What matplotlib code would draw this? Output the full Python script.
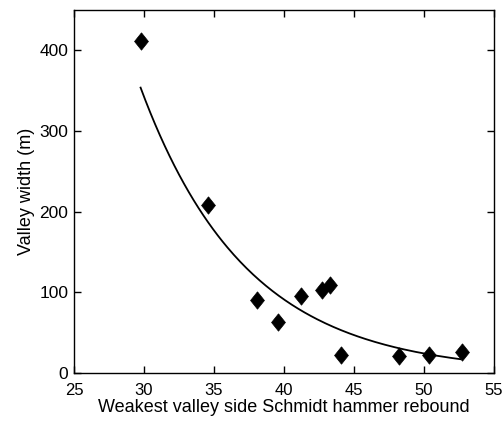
import numpy as np
import matplotlib.pyplot as plt

plt.rcParams['font.family'] = ['Liberation Sans', 'DejaVu Sans']

# measured valleys
rebound = [29.8, 34.6, 38.05, 39.6, 41.2, 42.7, 43.3, 44.05, 48.25, 50.35, 52.7]
width = [412, 209, 90, 63, 96, 103, 109, 22, 21, 22, 26]

# exponential fit: width = a * exp(b * rebound)
fit_a = 18150.0
fit_b = -0.1323
fit_x = np.linspace(29.76, 52.6, 200)
fit_y = fit_a * np.exp(fit_b * fit_x)

# matlab-like diamond, a bit taller than wide
diamond = [(0, 1.25), (1, 0), (0, -1.25), (-1, 0), (0, 1.25)]

fig = plt.figure(figsize=(5.03, 4.23), dpi=100)
ax = fig.add_axes([0.147, 0.118, 0.835, 0.858])

ax.plot(fit_x, fit_y, color='black', linewidth=1.3)
ax.plot(rebound, width, linestyle='none', marker=diamond, markersize=12.5,
        markeredgewidth=0.5, color='black')

ax.set_xlim(25, 55)
ax.set_ylim(0, 450)
ax.set_xticks([25, 30, 35, 40, 45, 50, 55])
ax.set_yticks([0, 100, 200, 300, 400])
ax.tick_params(direction='in', top=True, right=True, length=5, width=1,
               labelsize=12.5)
ax.tick_params(axis='x', pad=7, labelsize=12)
ax.tick_params(axis='y', pad=4)
for s in ax.spines.values():
    s.set_linewidth(1)

ax.set_xlabel('Weakest valley side Schmidt hammer rebound', fontsize=13, labelpad=1)
ax.set_ylabel('Valley width (m)', fontsize=13, labelpad=3)

fig.savefig('out.png', dpi=100)
